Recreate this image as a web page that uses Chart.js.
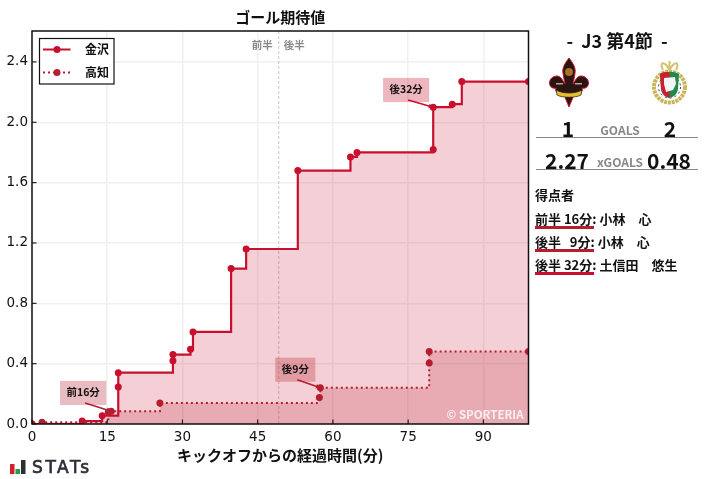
<!DOCTYPE html>
<html><head><meta charset="utf-8">
<script src="https://cdn.jsdelivr.net/npm/chart.js@4"></script>
<style>
html,body{margin:0;padding:0;background:#fff;width:707px;height:479px;overflow:hidden}
#wrap{position:relative;width:707px;height:479px;font-family:"Noto Sans CJK JP",sans-serif;color:#111}
canvas{position:absolute;left:0;top:0}
.t{position:absolute;white-space:pre;font-weight:700;line-height:1;transform:translate(-50%,-50%)}
.l{position:absolute;white-space:pre;font-weight:700;line-height:1;transform:translateY(-50%);font-size:13px}
.hr{position:absolute;left:536px;width:162px;height:1px;background:#888}
.u{position:absolute;left:535px;width:59px;height:2.5px}
svg{position:absolute}
</style></head><body>
<div id="wrap">
<canvas id="c" width="707" height="479"></canvas>
<div class="t" style="left:617px;top:39.5px;font-size:18px">-  J3 第4節  -</div>
<svg style="left:549px;top:58px" width="40" height="49" viewBox="0 0 40 49">
<path d="M20 0C24 5 27 10 26 15C25.5 20 24.5 22 24 26C26 23 28 18 32 18C36 18 39.5 21 39.5 25C39.5 29 36 31 33 30C34 33 32 35 30 35L25 36C24 40 22 44 20 49C18 44 16 40 15 36L10 35C8 35 6 33 7 30C4 31 .5 29 .5 25C.5 21 4 18 8 18C12 18 14 23 16 26C15.5 22 14.5 20 14 15C13 10 16 5 20 0Z" fill="#2a1512" stroke="#c8102e" stroke-width="1"/>
<circle cx="20" cy="14" r="4" fill="#a8702a"/>
<path d="M7 32C14 36 26 36 33 32L32 37C27 40 13 40 8 37Z" fill="#e3c02b" stroke="#2a1512" stroke-width=".7"/>
<rect x="7" y="25" width="7" height="1.5" fill="#c9a08a"/><rect x="26" y="25" width="7" height="1.5" fill="#c9a08a"/>
</svg>
<svg style="left:651px;top:59px" width="37" height="47" viewBox="0 0 37 47">
<circle cx="18.5" cy="28" r="15.5" fill="#fff" stroke="#c9b45a" stroke-width="4" stroke-dasharray="3 .8"/>
<circle cx="18.5" cy="28" r="11" fill="none" stroke="#333" stroke-width="1" stroke-dasharray="2 3"/>
<path d="M9 15C14 12 23 12 28 15L27 30C26 36 22 38 18.5 39C15 38 11 36 10 30Z" fill="#1f8a4c"/>
<path d="M9 15C12 13 15 13 18.5 13L18.5 39C15 38 11 36 10 30Z" fill="#c8202e"/>
<path d="M13 19L24 18L25 25L22 31L15 33L13 25Z" fill="#f3f3f3"/>
<path d="M18.5 11C13 1 8 3 12 11M18.5 11C24 1 29 3 25 11M18.5 11L18.5 2" fill="none" stroke="#d3c26a" stroke-width="2"/>
</svg>
<div class="t" style="left:568px;top:128px;font-size:21px">1</div>
<div class="t" style="left:620px;top:130px;font-size:12px;color:#888">GOALS</div>
<div class="t" style="left:670px;top:128px;font-size:21px">2</div>
<div class="hr" style="top:137px"></div>
<div class="t" style="left:567px;top:160px;font-size:21px">2.27</div>
<div class="t" style="left:620px;top:162px;font-size:12px;color:#888">xGOALS</div>
<div class="t" style="left:669px;top:160px;font-size:21px">0.48</div>
<div class="hr" style="top:169px"></div>
<div class="l" style="left:535px;top:194px">得点者</div>
<div class="l" style="left:535px;top:218px">前半 16分: 小林　心</div>
<div class="u" style="top:226px;background:#b2202f"></div>
<div class="l" style="left:535px;top:241px">後半   9分: 小林　心</div>
<div class="u" style="top:249px;background:#b2202f"></div>
<div class="l" style="left:535px;top:264px">後半 32分: 土信田　悠生</div>
<div class="u" style="top:272px;background:#c8102e"></div>
<svg style="left:10px;top:460px" width="16" height="15" viewBox="0 0 16 15">
<rect x="0" y="4" width="4.5" height="10" fill="#d8202a"/><rect x="5.5" y="9" width="4.5" height="5" fill="#1fa04a"/><rect x="11" y="0" width="4.5" height="14" fill="#2b3038"/>
</svg>
<div class="l" style="left:32px;top:467px;font-family:'DejaVu Sans';font-size:17px;font-weight:400;letter-spacing:2.6px;color:#2b3038;-webkit-text-stroke:.7px #2b3038">STATs</div>
</div>
<script>
const kanazawaName = "金沢";
const kochiName = "高知";
const kanazawaX = [0, 10, 14, 17.2, 17.2, 28.1, 28.1, 31.6, 32.1, 39.7, 42.7, 53, 63.5, 64.8, 80, 80, 83.8, 85.7, 99];
const kanazawaY = [0, 0.02, 0.055, 0.245, 0.34, 0.42, 0.46, 0.495, 0.61, 1.03, 1.16, 1.68, 1.77, 1.80, 1.82, 2.10, 2.12, 2.27, 2.27];
const kochiX = [0, 2, 15.2, 15.8, 25.5, 57.3, 57.5, 79.2, 79.2, 99];
const kochiY = [0, 0.012, 0.08, 0.085, 0.14, 0.175, 0.24, 0.405, 0.48, 0.48];
const xTicks = [0, 15, 30, 45, 60, 75, 90];
const yTicks = [0, 0.4, 0.8, 1.2, 1.6, 2.0, 2.4];
const halfTime = 49.2;
const goalNotes = [
 {text:"前16分", x:15.8, y:0.085, color:"#b2202f", bg:"rgba(178,32,47,0.3)", bx:5.6, by:0.126, bw:9.2, bh:0.16},
 {text:"後9分", x:57.5, y:0.24, color:"#b2202f", bg:"rgba(178,32,47,0.3)", bx:48.5, by:0.28, bw:8, bh:0.16},
 {text:"後32分", x:80, y:2.10, color:"#c8102e", bg:"rgba(200,16,46,0.3)", bx:70, by:2.134, bw:9.2, bh:0.16}
];
const cjk = '"Noto Sans CJK JP"';
const RED = "#c8102e", DARK = "#b2202f";
const toPts = (xs, ys) => xs.map((x, i) => ({x, y: ys[i]}));

const overlay = {
 id:"overlay",
 beforeDatasetsDraw(ch){
  const {ctx, scales:{x,y}, chartArea:a} = ch;
  ctx.save();
  ctx.strokeStyle="#c8c8c8"; ctx.lineWidth=1; ctx.setLineDash([3,2]);
  ctx.beginPath(); ctx.moveTo(x.getPixelForValue(halfTime),a.top); ctx.lineTo(x.getPixelForValue(halfTime),a.bottom); ctx.stroke();
  ctx.setLineDash([]);
  ctx.fillStyle="#888"; ctx.font="700 10.5px "+cjk; ctx.textBaseline="middle";
  const hx=x.getPixelForValue(halfTime);
  ctx.textAlign="right"; ctx.fillText("前半",hx-6,a.top+14);
  ctx.textAlign="left"; ctx.fillText("後半",hx+5,a.top+14);
  ctx.restore();
 },
 afterDatasetsDraw(ch){
  const {ctx, scales:{x,y}, chartArea:a} = ch;
  ctx.save();
  goalNotes.forEach(n=>{
   const l=x.getPixelForValue(n.bx), t=y.getPixelForValue(n.by+n.bh), r=x.getPixelForValue(n.bx+n.bw), b=y.getPixelForValue(n.by);
   ctx.fillStyle=n.bg; ctx.fillRect(l,t,r-l,b-t);
   ctx.fillStyle="#111"; ctx.font="700 10.5px "+cjk; ctx.textAlign="center"; ctx.textBaseline="middle";
   ctx.fillText(n.text,(l+r)/2,(t+b)/2-0.5);
   const px=x.getPixelForValue(n.x), py=y.getPixelForValue(n.y);
   const sx=(l+r)/2+2, sy=b-2;
   ctx.strokeStyle=n.color; ctx.lineWidth=1.6;
   ctx.beginPath(); ctx.moveTo(sx,sy); ctx.lineTo(px,py); ctx.stroke();
   const ang=Math.atan2(py-sy,px-sx);
   ctx.fillStyle=n.color; ctx.beginPath(); ctx.moveTo(px,py);
   ctx.lineTo(px-5*Math.cos(ang-0.5),py-5*Math.sin(ang-0.5));
   ctx.lineTo(px-5*Math.cos(ang+0.5),py-5*Math.sin(ang+0.5)); ctx.closePath(); ctx.fill();
  });
  ctx.fillStyle="rgba(255,255,255,0.8)"; ctx.font="700 11.5px "+cjk; ctx.textAlign="right"; ctx.textBaseline="middle";
  ctx.fillText("© SPORTERIA",a.right-5,a.bottom-9);
  ctx.strokeStyle="#111"; ctx.lineWidth=1.1;
  x.ticks.forEach(t=>{const p=x.getPixelForValue(t.value); ctx.beginPath(); ctx.moveTo(p,a.bottom); ctx.lineTo(p,a.bottom-4.5); ctx.stroke();});
  y.ticks.forEach(t=>{const p=y.getPixelForValue(t.value); ctx.beginPath(); ctx.moveTo(a.left,p); ctx.lineTo(a.left+4.5,p); ctx.stroke();});
  ctx.strokeStyle="#111"; ctx.lineWidth=1.5; ctx.strokeRect(a.left,a.top,a.right-a.left,a.bottom-a.top);
  const lx=a.left+7.5, ly=a.top+7.5;
  ctx.fillStyle="#fff"; ctx.fillRect(lx,ly,74.5,45.5);
  ctx.strokeStyle="#111"; ctx.lineWidth=1.2; ctx.strokeRect(lx,ly,74.5,45.5);
  const entries=[[kanazawaName,RED,[],ly+11],[kochiName,DARK,[2,3],ly+34]];
  entries.forEach(([name,col,dash,yy])=>{
   ctx.strokeStyle=col; ctx.lineWidth=2; ctx.setLineDash(dash);
   ctx.beginPath(); ctx.moveTo(lx+3.5,yy); ctx.lineTo(lx+31,yy); ctx.stroke(); ctx.setLineDash([]);
   ctx.fillStyle=col; ctx.beginPath(); ctx.arc(lx+17.5,yy,3.5,0,Math.PI*2); ctx.fill();
   ctx.fillStyle="#111"; ctx.font="700 12px "+cjk; ctx.textAlign="left"; ctx.textBaseline="middle";
   ctx.fillText(name,lx+45.5,yy);
  });
  ctx.restore();
 }
};

new Chart(document.getElementById("c"),{
 type:"line",
 data:{datasets:[
  {label:kanazawaName,data:toPts(kanazawaX,kanazawaY),stepped:true,borderColor:RED,borderWidth:2.2,backgroundColor:"rgba(200,16,46,0.2)",fill:"origin",pointRadius:3.5,pointBackgroundColor:RED,pointBorderWidth:0},
  {label:kochiName,data:toPts(kochiX,kochiY),stepped:true,borderColor:DARK,borderWidth:2,borderDash:[2,3],backgroundColor:"rgba(178,32,47,0.2)",fill:"origin",pointRadius:3.5,pointBackgroundColor:DARK,pointBorderWidth:0}
 ]},
 plugins:[overlay],
 options:{
  responsive:false,animation:false,devicePixelRatio:1,
  layout:{padding:{left:0,right:178.5,top:0,bottom:15}},
  plugins:{
   legend:{display:false},tooltip:{enabled:false},
   title:{display:true,fullSize:false,text:"ゴール期待値",color:"#111",font:{family:cjk,size:15,weight:"700"},padding:{top:8,bottom:5}}
  },
  scales:{
   x:{type:"linear",min:0,max:99,
    afterBuildTicks:s=>{s.ticks=xTicks.map(value=>({value}));},
    afterFit:s=>{s.height=40;},
    grid:{color:"#f0f0f0",lineWidth:1.5,drawTicks:false},border:{display:false},
    ticks:{color:"#111",font:{family:"DejaVu Sans",size:13.5},padding:5,maxRotation:0,autoSkip:false},
    title:{display:true,text:"キックオフからの経過時間(分)",color:"#111",font:{family:cjk,size:15,weight:"700"},padding:{top:3,bottom:0}}
   },
   y:{min:0,max:2.605,
    afterBuildTicks:s=>{s.ticks=yTicks.map(value=>({value}));},
    afterFit:s=>{s.width=32;},
    grid:{color:"#f0f0f0",lineWidth:1.5,drawTicks:false},border:{display:false},
    ticks:{color:"#111",font:{family:"DejaVu Sans",size:13.5},padding:4,callback:v=>v.toFixed(1),autoSkip:false}
   }
  }
 }
});
</script>
</body></html>
